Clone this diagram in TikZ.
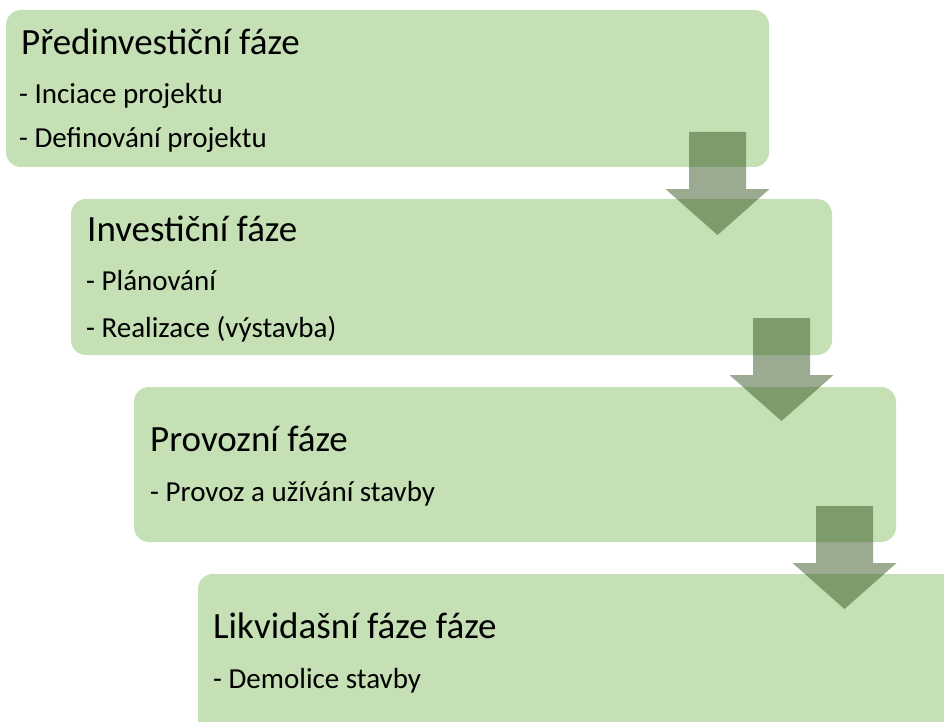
\documentclass[tikz,border=0pt]{standalone}
\usepackage{fontspec}
\setmainfont{Carlito}
\definecolor{boxgreen}{HTML}{C5E0B4}
\definecolor{arrowgreen}{RGB}{56,87,35}
\tikzset{
  phasebox/.style={fill=boxgreen, rounded corners=15pt},
  phasetitle/.style={anchor=base west, inner sep=0pt, font=\fontsize{37}{44}\selectfont},
  phaseitem/.style={anchor=base west, inner sep=0pt, font=\fontsize{29}{35}\selectfont},
  phasearrow/.style={fill=arrowgreen, fill opacity=0.5}
}
\newcommand\myarrow[2]{%
  \fill[phasearrow] (#1-28.5,#2) -- (#1+28.5,#2) -- (#1+28.5,#2+57) -- (#1+52,#2+57)
    -- (#1,#2+103) -- (#1-52,#2+57) -- (#1-28.5,#2+57) -- cycle;}
\begin{document}
\begin{tikzpicture}[x=1pt,y=-1pt]
\useasboundingbox (0,0) rectangle (944,722);
\clip (0,0) rectangle (944,722);
\fill[phasebox] (6,10) rectangle (769,167);
\fill[phasebox] (71,199) rectangle (832,355);
\fill[phasebox] (134,387) rectangle (896,542);
\fill[phasebox] (198,574) rectangle (980,760);

\node[phasetitle] (t1) at (21,55) {Předinvestiční fáze};
\node[phaseitem] (i11) at (19,104) {- Inciace projektu};
\node[phaseitem] (i12) at (19,148) {- Definování projektu};

\node[phasetitle] (t2) at (87,241) {Investiční fáze};
\node[phaseitem] (i21) at (86,290) {- Plánování};
\node[phaseitem] (i22) at (86,337) {- Realizace (výstavba)};

\node[phasetitle] (t3) at (150,451) {Provozní fáze};
\node[phaseitem] (i31) at (150,501) {- Provoz a užívání stavby};

\node[phasetitle] (t4) at (213,638) {Likvidašní fáze fáze};
\node[phaseitem] (i41) at (213,688) {- Demolice stavby};

\myarrow{717.5}{132}
\myarrow{781.5}{318}
\myarrow{844.5}{506}
\end{tikzpicture}
\end{document}
